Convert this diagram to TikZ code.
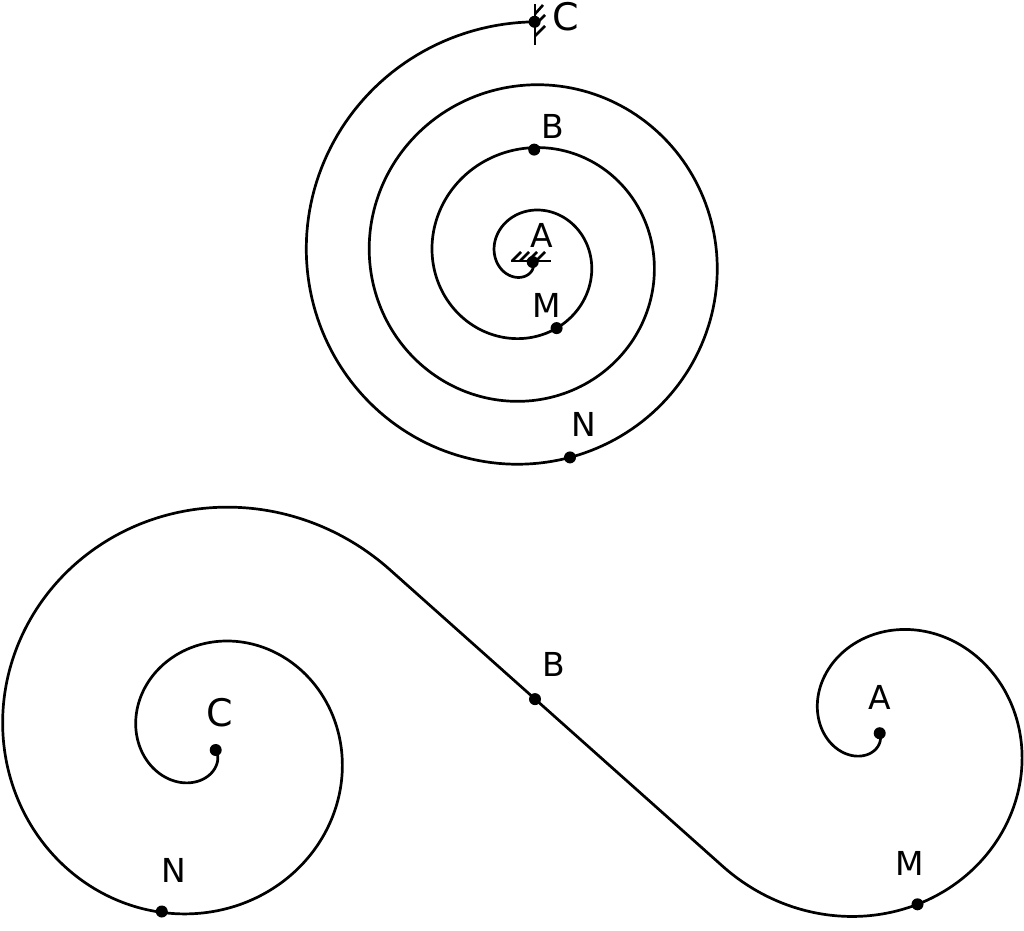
\documentclass[tikz,border=0pt]{standalone}
\usepackage{fontspec}
\setmainfont{DejaVu Sans}
\begin{document}
\begin{tikzpicture}[x=1pt,y=-1pt,
  curve/.style={line width=2.7pt,line join=round},
  hatch/.style={line width=2.6pt},
  dot/.style={circle,fill=black,inner sep=0pt,minimum size=12pt},
  lab/.style={font=\fontsize{33}{38}\selectfont,inner sep=0pt},
  labbig/.style={font=\fontsize{38}{44}\selectfont,inner sep=0pt}]
\useasboundingbox (0,0) rectangle (1024,930);

% top spiral
\draw[curve] plot[domain=-0.03:23.0,samples=700,variable=\t]
  ({527.5-(236.75-10.027*\t)*sin(\t r)},{258.75-(236.75-10.027*\t)*cos(\t r)});

% fixed supports
\draw[hatch] (535,4) -- (535,45);
\draw[hatch] (535,14) -- ++(8,-9) (535,25) -- ++(10,-10) (535,36) -- ++(10,-10);
\draw[hatch] (511,261) -- (551,261);
\draw[hatch] (512,261) -- ++(9,-9) (520,261) -- ++(9,-9) (528,261) -- ++(9,-9) (536,261) -- ++(9,-9);

\node[dot] (tC) at (534.6,21.8) {};
\node[dot] (tB) at (534.2,149.6) {};
\node[dot] (tA) at (532.7,262) {};
\node[dot] (tM) at (556.6,328.1) {};
\node[dot] (tN) at (570,457.4) {};

\node[labbig] (ltC) at (566,17) {C};
\node[lab] (ltB) at (553,126) {B};
\node[lab] (ltA) at (542,235) {A};
\node[lab] (ltM) at (547,305) {M};
\node[lab] (ltN) at (584,424) {N};

% bottom double spiral: left spiral, common tangent, right spiral
\draw[curve] plot[domain=0:11.26,samples=550,variable=\s]
  ({206-(236-21.5*(10.45-\s))*sin((10.45-\s) r)},{744.1-(236-21.5*(10.45-\s))*cos((10.45-\s) r)})
  -- plot[domain=-0.855:6.7,samples=500,variable=\t]
  ({878.8+(183.2-27*\t)*sin(\t r)},{731.3+(183.2-27*\t)*cos(\t r)});

\node[dot] (bB) at (535,699.1) {};
\node[dot] (bC) at (215.7,750) {};
\node[dot] (bN) at (161.8,911.5) {};
\node[dot] (bA) at (879.7,733.2) {};
\node[dot] (bM) at (917.5,904.3) {};

\node[lab] (lbB) at (554,664) {B};
\node[labbig] (lbC) at (220,713) {C};
\node[lab] (lbN) at (174,870) {N};
\node[lab] (lbA) at (880,697) {A};
\node[lab] (lbM) at (910,863) {M};
\end{tikzpicture}
\end{document}
